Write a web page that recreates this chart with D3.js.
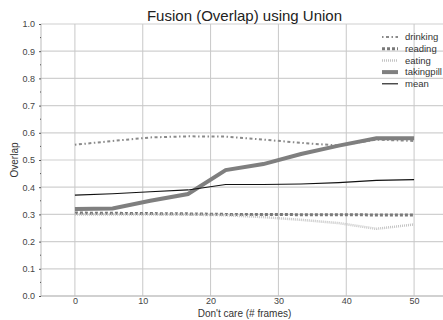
<!DOCTYPE html>
<html>
<head>
<meta charset="utf-8">
<script src="https://cdn.jsdelivr.net/npm/d3@7"></script>
<style>
  body { margin: 0; background: #fff; }
  svg { font-family: "Liberation Sans", Arial, sans-serif; }
</style>
</head>
<body>
<svg id="chart" width="443" height="320"></svg>
<script>
const frames = [0, 5.56, 11.11, 16.67, 22.22, 27.78, 33.33, 38.89, 44.44, 50];
const drinking = [0.556, 0.570, 0.583, 0.587, 0.586, 0.575, 0.563, 0.553, 0.575, 0.570];
const reading = [0.305, 0.304, 0.303, 0.302, 0.300, 0.300, 0.299, 0.299, 0.298, 0.298];
const eating = [0.300, 0.300, 0.300, 0.299, 0.297, 0.290, 0.280, 0.268, 0.247, 0.263];
const takingpill = [0.320, 0.322, 0.350, 0.375, 0.463, 0.485, 0.522, 0.553, 0.580, 0.580];
const meanVals = [0.371, 0.376, 0.383, 0.390, 0.410, 0.410, 0.412, 0.417, 0.425, 0.428];
const xTicks = [0, 10, 20, 30, 40, 50];
const yTicks = [0, 0.1, 0.2, 0.3, 0.4, 0.5, 0.6, 0.7, 0.8, 0.9, 1.0];

const series = [
  { name: "drinking", values: drinking, color: "#8a8a8a", width: 2, dash: "1.5,2.5,3,2.5" },
  { name: "reading", values: reading, color: "#7a7a7a", width: 3, dash: "3,2" },
  { name: "eating", values: eating, color: "#c4c4c4", width: 2.5, dash: "1,1" },
  { name: "takingpill", values: takingpill, color: "#7f7f7f", width: 4, dash: null },
  { name: "mean", values: meanVals, color: "#111", width: 1.1, dash: null },
];

const svg = d3.select("#chart");
const plotL = 41, plotT = 24, plotR = 448, plotB = 296;

const x = d3.scaleLinear().domain([-5, 55]).range([plotL, plotR]);
const y = d3.scaleLinear().domain([0, 1]).range([plotB, plotT]);

// grid
svg.append("g")
  .selectAll("line")
  .data(yTicks)
  .join("line")
  .attr("x1", plotL).attr("x2", plotR)
  .attr("y1", d => y(d)).attr("y2", d => y(d))
  .attr("stroke", "#d0d0d0").attr("stroke-width", 1.2);

svg.append("g")
  .selectAll("line")
  .data(xTicks)
  .join("line")
  .attr("x1", d => x(d)).attr("x2", d => x(d))
  .attr("y1", plotT).attr("y2", plotB)
  .attr("stroke", "#c8c8c8").attr("stroke-width", 1);

// spines
svg.append("line").attr("x1", plotL).attr("x2", plotL).attr("y1", plotT).attr("y2", plotB)
  .attr("stroke", "#bbb");
svg.append("line").attr("x1", plotL).attr("x2", plotR).attr("y1", plotB).attr("y2", plotB)
  .attr("stroke", "#bbb");

// y axis
const yAxis = svg.append("g")
  .attr("transform", "translate(" + plotL + ",0)")
  .call(d3.axisLeft(y).tickValues(yTicks).tickFormat(d3.format(".1f")).tickSize(2).tickPadding(4));
yAxis.select(".domain").remove();
yAxis.selectAll("line").attr("stroke", "#555");
yAxis.selectAll("text").attr("fill", "#444").style("font-size", "9px");

// minor ticks
svg.append("g")
  .selectAll("line")
  .data(d3.range(0.05, 1, 0.1))
  .join("line")
  .attr("x1", plotL - 1).attr("x2", plotL)
  .attr("y1", d => y(d)).attr("y2", d => y(d))
  .attr("stroke", "#555");

// x axis
const xAxis = svg.append("g")
  .attr("transform", "translate(0," + plotB + ")")
  .call(d3.axisBottom(x).tickValues(xTicks).tickSize(0).tickPadding(2));
xAxis.select(".domain").remove();
xAxis.selectAll("text").attr("fill", "#444").style("font-size", "9px");

// lines
const line = d3.line()
  .x((d, i) => x(frames[i]))
  .y(d => y(d));

svg.append("g")
  .selectAll("path")
  .data(series)
  .join("path")
  .attr("d", d => line(d.values))
  .attr("fill", "none")
  .attr("stroke", d => d.color)
  .attr("stroke-width", d => d.width)
  .attr("stroke-dasharray", d => d.dash);

// legend
const legend = svg.append("g")
  .selectAll("g")
  .data(series)
  .join("g")
  .attr("transform", (d, i) => "translate(382," + (37 + i * 11.7) + ")");

legend.append("line")
  .attr("x1", 0).attr("x2", 16)
  .attr("stroke", d => d.color)
  .attr("stroke-width", d => d.width)
  .attr("stroke-dasharray", d => d.dash);

legend.append("text")
  .attr("x", 23).attr("dy", "0.35em")
  .attr("fill", "#333")
  .style("font-size", "9.5px")
  .text(d => d.name);

// titles
svg.append("text")
  .attr("x", (plotL + plotR) / 2).attr("y", 21)
  .attr("text-anchor", "middle")
  .attr("fill", "#222")
  .style("font-size", "15px")
  .text("Fusion (Overlap) using Union");

svg.append("text")
  .attr("x", (plotL + plotR) / 2).attr("y", 317)
  .attr("text-anchor", "middle")
  .attr("fill", "#333")
  .style("font-size", "10px")
  .text("Don't care (# frames)");

svg.append("text")
  .attr("transform", "translate(18," + (plotT + plotB) / 2 + ") rotate(-90)")
  .attr("text-anchor", "middle")
  .attr("fill", "#333")
  .style("font-size", "10px")
  .text("Overlap");
</script>
</body>
</html>
